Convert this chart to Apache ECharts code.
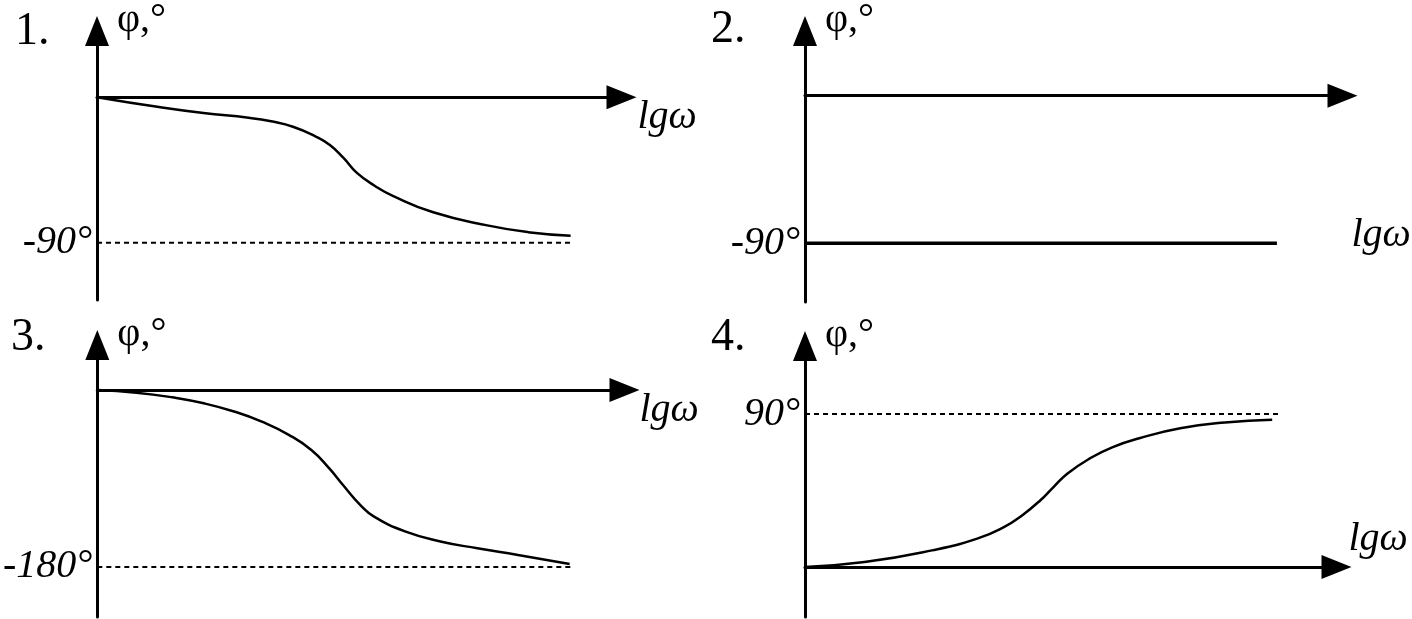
<!DOCTYPE html>
<html><head><meta charset="utf-8">
<script src="https://cdn.jsdelivr.net/npm/echarts@6/dist/echarts.min.js"></script>
<style>html,body{margin:0;padding:0;background:#fff}#c{width:1412px;height:619px}</style>
</head><body><div id="c"></div>
<script>
// ---- data ----
const panelTitles = ['1.', '2.', '3.', '4.'];
const yName = 'φ,°';
const xName = 'lgω';
// panel 1: phase curve, 0 -> -90
const p1X = [0, 1.18, 2.03, 2.89, 3.32, 3.75, 4.18, 4.44, 4.70, 4.95, 5.30, 5.64, 6.41, 7.44, 8.22, 9.03];
const p1Phi = [0, -6.1, -9.8, -12.7, -14.9, -18.4, -24.5, -29.6, -37.6, -46.7, -54.9, -61.0, -71.2, -79.3, -83.5, -85.7];
// panel 2: constant -90
const p2X = [0, 8.78];
const p2Phi = [-90, -90];
// panel 3: 0 -> -180
const p3X = [0, 0.74, 1.42, 2.02, 2.61, 3.12, 3.64, 4.06, 4.40, 4.66, 4.99, 5.25, 5.85, 6.53, 7.21, 7.98, 8.96];
const p3Phi = [0, -2.7, -7.4, -13.5, -22.1, -32.2, -45.8, -61.0, -79.7, -96.6, -117.0, -128.8, -144.1, -154.3, -161.0, -167.8, -177.0];
// panel 4: 0 -> 90
const p4X = [0, 1.12, 2.39, 3.24, 3.75, 4.09, 4.43, 4.68, 4.94, 5.36, 5.78, 6.29, 7.06, 7.90, 8.79];
const p4Phi = [0, 2.9, 9.8, 16.7, 23.6, 30.5, 39.3, 47.2, 55.0, 63.9, 70.4, 75.7, 81.6, 85.0, 86.6];
// reference levels (asymptotes) and their extents
const levels = [-90, -90, -180, 90];
const asymEnd = [9.02, null, 9.0, 8.9];
const yRanges = [[-125.5, 41], [-125.9, 39.5], [-230.9, 45.8], [-29.4, 130]];
const xMax = 10;

// ---- chart ----
const FONT = '"Liberation Serif", "Times New Roman", serif';
const grids = [
  {left: 97, top: 28, width: 524.5, height: 272},
  {left: 805, top: 30, width: 537.5, height: 272},
  {left: 97, top: 345, width: 527.5, height: 272},
  {left: 805, top: 346, width: 531.5, height: 271}
];
const titlePos = [[15, 9], [711, 7], [11, 315], [711, 315]];
const xNameCfg = [
  {gap: 16, va: 'top', pad: [0, 0, 0, 0]},
  {gap: 9, va: 'top', pad: [120, 0, 0, 0]},
  {gap: 15, va: 'top', pad: [0, 0, 0, 0]},
  {gap: 12, va: 'bottom', pad: [0, 0, 8, 0]}
];
const curves = [[p1X, p1Phi], [p2X, p2Phi], [p3X, p3Phi], [p4X, p4Phi]];

function axisLine() {
  return {show: true, onZero: true, symbol: ['none', 'triangle'], symbolSize: [24, 30],
    lineStyle: {color: '#000', width: 3}};
}

const xAxis = [], yAxis = [], series = [], title = [];
for (let i = 0; i < 4; i++) {
  title.push({text: panelTitles[i], left: titlePos[i][0], top: titlePos[i][1], padding: 0,
    textStyle: {fontFamily: FONT, fontSize: 46, fontWeight: 'normal', color: '#000'}});
  xAxis.push({type: 'value', gridIndex: i, min: 0, max: xMax,
    axisLine: axisLine(), axisTick: {show: false}, axisLabel: {show: false}, splitLine: {show: false},
    name: xName, nameLocation: 'end', nameGap: xNameCfg[i].gap,
    nameTextStyle: {fontFamily: FONT, fontStyle: 'italic', fontSize: 40, color: '#000',
      align: 'left', verticalAlign: xNameCfg[i].va, padding: xNameCfg[i].pad}});
  yAxis.push({type: 'value', gridIndex: i, min: yRanges[i][0], max: yRanges[i][1],
    axisLine: axisLine(), axisTick: {show: false}, splitLine: {show: false},
    axisLabel: {show: true, customValues: [levels[i]], formatter: '{value}°',
      fontFamily: FONT, fontStyle: 'italic', fontSize: 40, color: '#000', margin: 5},
    name: yName, nameLocation: 'end', nameGap: 11,
    nameTextStyle: {fontFamily: FONT, fontSize: 40, color: '#000', align: 'left',
      verticalAlign: 'middle', padding: [0, 0, 0, 20]}});
  const [xs, ys] = curves[i];
  series.push({type: 'line', xAxisIndex: i, yAxisIndex: i,
    data: xs.map((x, k) => [x, ys[k]]),
    smooth: i === 1 ? false : 0.5, showSymbol: false, silent: true,
    lineStyle: {color: '#000', width: i === 1 ? 3.5 : 2.5}, z: 3});
  if (asymEnd[i] !== null) {
    series.push({type: 'line', xAxisIndex: i, yAxisIndex: i,
      data: [[0, levels[i]], [asymEnd[i], levels[i]]],
      showSymbol: false, silent: true,
      lineStyle: {color: '#000', width: 2, type: [5, 4]}, z: 2});
  }
}

const chart = echarts.init(document.getElementById('c'), null, {renderer: 'canvas'});
chart.setOption({backgroundColor: '#fff', animation: false, title, grid: grids, xAxis, yAxis, series});
</script>
</body></html>
